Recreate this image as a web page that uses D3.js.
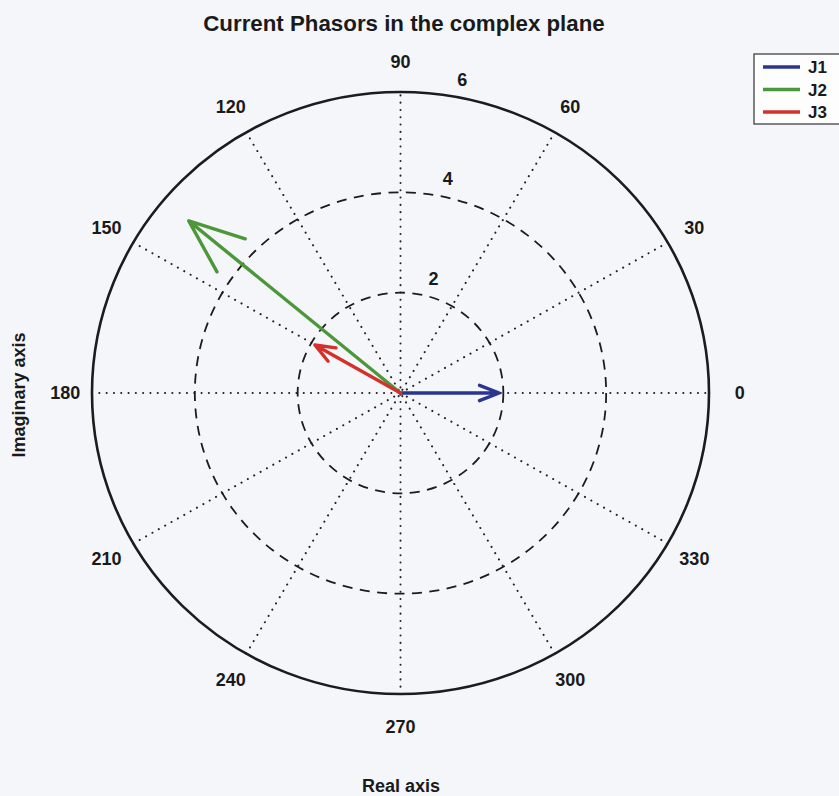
<!DOCTYPE html>
<html>
<head>
<meta charset="utf-8">
<script src="https://cdn.jsdelivr.net/npm/d3@7"></script>
<style>
  html, body { margin: 0; padding: 0; background: #f5f6fa; }
  svg { display: block; }
  text { font-family: "Liberation Sans", Arial, sans-serif; font-weight: bold; fill: #1a1a1a; }
</style>
</head>
<body>
<svg id="chart" width="839" height="796"></svg>
<script>
// Phasor data (magnitude, angle in degrees)
const names = ["J1", "J2", "J3"];
const magnitudes = [1.92, 5.36, 1.92];
const anglesDeg = [0, 140.2, 150.1];
const colors = ["#2b3590", "#4b973a", "#d3322c"];

// Polar grid settings
const rTicks = [2, 4, 6];
const rMax = 6;
const spokeAngles = d3.range(0, 360, 30);

const svg = d3.select("#chart");
const cx = 400.5, cy = 393;
const x = d3.scaleLinear().domain([-rMax, rMax]).range([cx - 308.5, cx + 308.5]);
const y = d3.scaleLinear().domain([-rMax, rMax]).range([cy + 301, cy - 301]);
const rad = d => d * Math.PI / 180;

// Title and axis titles
svg.append("text").attr("x", 404).attr("y", 31).attr("text-anchor", "middle")
  .attr("font-size", 22.3).text("Current Phasors in the complex plane");
svg.append("text").attr("x", 401).attr("y", 792).attr("text-anchor", "middle")
  .attr("font-size", 18).text("Real axis");
svg.append("text").attr("transform", `translate(25,395) rotate(-90)`).attr("text-anchor", "middle")
  .attr("font-size", 18).text("Imaginary axis");

const grid = svg.append("g");

// Dotted spokes every 30 degrees
grid.selectAll("line.spoke").data(spokeAngles.filter(a => a < 180)).join("line")
  .attr("class", "spoke")
  .attr("x1", a => x(-rMax * Math.cos(rad(a)))).attr("y1", a => y(-rMax * Math.sin(rad(a))))
  .attr("x2", a => x(rMax * Math.cos(rad(a)))).attr("y2", a => y(rMax * Math.sin(rad(a))))
  .attr("stroke", "#222").attr("stroke-width", 2).attr("stroke-linecap", "round")
  .attr("stroke-dasharray", "0.1,7.2");

// Dashed inner rings and solid outer ring
grid.selectAll("ellipse.ring").data(rTicks).join("ellipse")
  .attr("class", "ring")
  .attr("cx", x(0)).attr("cy", y(0))
  .attr("rx", r => x(r) - x(0)).attr("ry", r => y(0) - y(r))
  .attr("fill", "none").attr("stroke", "#1c1c1c")
  .attr("stroke-width", r => r === rMax ? 2.6 : 1.8)
  .attr("stroke-dasharray", r => r === rMax ? null : "10,7.5");

// Radial tick labels placed along 82 degrees
grid.selectAll("text.rlab").data(rTicks).join("text")
  .attr("class", "rlab")
  .attr("x", r => x((r + 0.1) * Math.cos(rad(82))) + 18)
  .attr("y", r => y((r + 0.1) * Math.sin(rad(82))) - 4)
  .attr("text-anchor", "middle").attr("font-size", 18).text(r => r);

// Angle labels around the outer ring
grid.selectAll("text.alab").data(spokeAngles).join("text")
  .attr("class", "alab")
  .attr("x", a => x(1.1 * rMax * Math.cos(rad(a))) + (a === 180 ? 4 : 0))
  .attr("y", a => y(1.1 * rMax * Math.sin(rad(a))) + (a === 270 ? 2 : 0))
  .attr("dy", "0.36em")
  .attr("text-anchor", "middle").attr("font-size", 18).text(a => a);

// Phasor arrows (compass style head: 20% length, 8% half-width)
const phasors = names.map((n, i) => ({ name: n, m: magnitudes[i], a: anglesDeg[i], c: colors[i] }));
const arrowPts = d => {
  const th = rad(d.a), m = d.m;
  const rot = (u, v) => [m * (u * Math.cos(th) - v * Math.sin(th)), m * (u * Math.sin(th) + v * Math.cos(th))];
  return [rot(0, 0), rot(1, 0), rot(0.8, 0.08), rot(1, 0), rot(0.8, -0.08)];
};
const line = d3.line().x(p => x(p[0])).y(p => y(p[1]));
svg.append("g").selectAll("path").data(phasors).join("path")
  .attr("d", d => line(arrowPts(d)))
  .attr("fill", "none").attr("stroke", d => d.c).attr("stroke-width", 3.4)
  .attr("stroke-linejoin", "round").attr("stroke-linecap", "round");

// Legend
const lg = svg.append("g").attr("transform", "translate(754,54)");
lg.append("rect").attr("x", 0).attr("y", 0).attr("width", 100).attr("height", 70)
  .attr("fill", "#fdfdfe").attr("stroke", "#333").attr("stroke-width", 1.2);
const items = lg.selectAll("g.item").data(phasors).join("g")
  .attr("transform", (d, i) => `translate(0,${13 + i * 22.5})`);
items.append("line").attr("x1", 9).attr("x2", 46).attr("stroke", d => d.c).attr("stroke-width", 3.4);
items.append("text").attr("x", 54).attr("dy", "0.36em").attr("font-size", 17).text(d => d.name);
</script>
</body>
</html>
